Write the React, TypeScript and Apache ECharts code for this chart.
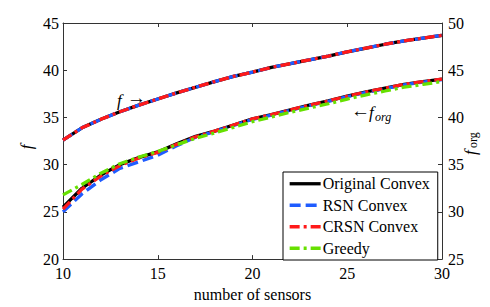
import React, { useEffect, useRef } from "react";
import * as echarts from "echarts";

const sensors = [10, 11, 12, 13, 14, 15, 16, 17, 18, 19, 20, 21, 22, 23, 24, 25, 26, 27, 28, 29, 30];

// upper curves: f (left axis)
const fOriginal = [32.6, 33.9, 34.8, 35.6, 36.3, 36.95, 37.6, 38.2, 38.8, 39.35, 39.8, 40.3, 40.7, 41.1, 41.5, 41.95, 42.35, 42.75, 43.1, 43.4, 43.7];
const fRSN = [32.6, 33.9, 34.8, 35.6, 36.3, 36.95, 37.6, 38.2, 38.8, 39.35, 39.8, 40.3, 40.7, 41.1, 41.5, 41.95, 42.35, 42.75, 43.1, 43.4, 43.7];
const fCRSN = [32.6, 33.9, 34.8, 35.6, 36.3, 36.95, 37.6, 38.2, 38.8, 39.35, 39.8, 40.3, 40.7, 41.1, 41.5, 41.95, 42.35, 42.75, 43.1, 43.4, 43.7];

// lower curves: f_org (right axis)
const forgOriginal = [30.5, 32.5, 33.9, 35.0, 35.75, 36.35, 37.2, 38.0, 38.55, 39.2, 39.85, 40.3, 40.8, 41.3, 41.75, 42.25, 42.7, 43.1, 43.5, 43.8, 44.05];
const forgRSN = [30.0, 31.9, 33.4, 34.6, 35.3, 36.0, 37.0, 37.9, 38.5, 39.15, 39.8, 40.25, 40.75, 41.25, 41.7, 42.2, 42.65, 43.05, 43.45, 43.75, 44.0];
const forgCRSN = [30.3, 32.4, 33.8, 34.9, 35.7, 36.3, 37.15, 37.95, 38.55, 39.2, 39.85, 40.3, 40.8, 41.3, 41.75, 42.25, 42.7, 43.1, 43.5, 43.8, 44.05];
const forgGreedy = [31.8, 32.9, 34.1, 35.1, 35.8, 36.4, 37.1, 37.8, 38.35, 38.95, 39.55, 40.05, 40.55, 41.0, 41.45, 41.95, 42.4, 42.8, 43.2, 43.5, 43.8];

const names = ["Original Convex", "RSN Convex", "CRSN Convex", "Greedy"];
const colors = ["#000000", "#1f5cff", "#ff1a1a", "#66e000"];
const dashes: any[] = ["solid", [11, 5], [10, 4, 3, 4], [10, 4, 3, 4]];

const FONT = "'Liberation Serif', 'Times New Roman', serif";

const pairs = (ys: number[]) => sensors.map((x, i) => [x, ys[i]]);

export default function App() {
  const ref = useRef<HTMLDivElement>(null);
  useEffect(() => {
    if (!ref.current) return;
    const chart = echarts.init(ref.current, null, { renderer: "svg" });
    const mk = (idx: number, data: number[], yAxisIndex: number) => ({
      type: "line",
      name: names[idx],
      data: pairs(data),
      yAxisIndex,
      xAxisIndex: 0,
      symbol: "none",
      showSymbol: false,
      lineStyle: { color: colors[idx], width: 3.3, type: dashes[idx] },
      itemStyle: { color: colors[idx] },
      z: 2 + idx,
    });
    const axisLine = { show: true, lineStyle: { color: "#333", width: 1 } };
    const tick = { show: true, inside: true, length: 4, lineStyle: { color: "#333" } };
    const label = { color: "#000", fontFamily: FONT, fontSize: 16 };
    chart.setOption({
      animation: false,
      backgroundColor: "#fff",
      grid: { left: 63, right: 48, top: 23, bottom: 43, show: false },
      legend: {
        orient: "vertical",
        left: 283,
        top: 172,
        width: 159,
        data: names,
        itemWidth: 31,
        itemHeight: 14,
        itemGap: 4,
        padding: [3, 8, 3, 5],
        borderColor: "#000",
        borderWidth: 1,
        backgroundColor: "#fff",
        itemStyle: { opacity: 0 },
        lineStyle: { width: 3.3 },
        textStyle: { color: "#000", fontFamily: FONT, fontSize: 16, lineHeight: 17.5, padding: [0, 0, 0, -3] },
        selectedMode: false,
      },
      xAxis: [
        {
          type: "value",
          min: 10,
          max: 30,
          interval: 5,
          position: "bottom",
          axisLine,
          axisTick: tick,
          splitLine: { show: false },
          axisLabel: { ...label, margin: 6 },
          name: "number of sensors",
          nameLocation: "middle",
          nameGap: 22,
          nameTextStyle: { color: "#000", fontFamily: FONT, fontSize: 16 },
        },
        {
          type: "value",
          min: 10,
          max: 30,
          interval: 5,
          position: "top",
          axisLine,
          axisTick: tick,
          splitLine: { show: false },
          axisLabel: { show: false },
        },
      ],
      yAxis: [
        {
          type: "value",
          min: 20,
          max: 45,
          interval: 5,
          position: "left",
          axisLine,
          axisTick: tick,
          splitLine: { show: false },
          axisLabel: { ...label, margin: 4 },
        },
        {
          type: "value",
          min: 25,
          max: 50,
          interval: 5,
          position: "right",
          axisLine,
          axisTick: tick,
          splitLine: { show: false },
          axisLabel: { ...label, margin: 6 },
        },
      ],
      graphic: [
        {
          type: "text",
          x: 26,
          y: 147,
          rotation: Math.PI / 2,
          style: {
            text: "f",
            fontFamily: FONT,
            fontSize: 17,
            fontStyle: "italic",
            fill: "#000",
            align: "center",
            verticalAlign: "middle",
          },
        },
        {
          type: "text",
          x: 117,
          y: 100,
          style: {
            text: "f",
            fontFamily: FONT,
            fontSize: 17,
            fontStyle: "italic",
            fill: "#000",
            verticalAlign: "middle",
          },
        },
        {
          type: "text",
          x: 127,
          y: 97,
          style: { text: "→", fontFamily: FONT, fontSize: 19, fill: "#000", verticalAlign: "middle" },
        },
        {
          type: "text",
          x: 351,
          y: 110,
          style: { text: "←", fontFamily: FONT, fontSize: 19, fill: "#000", verticalAlign: "middle" },
        },
        {
          type: "text",
          x: 369,
          y: 112,
          style: { text: "f", fontFamily: FONT, fontSize: 17, fontStyle: "italic", fill: "#000", verticalAlign: "middle" },
        },
        {
          type: "text",
          x: 375,
          y: 117,
          style: { text: "org", fontFamily: FONT, fontSize: 12, fontStyle: "italic", fill: "#000", verticalAlign: "middle" },
        },
        {
          type: "group",
          x: 470,
          y: 155,
          rotation: Math.PI / 2,
          children: [
            {
              type: "text",
              x: 0,
              y: 0,
              style: { text: "f", fontFamily: FONT, fontSize: 17, fontStyle: "italic", fill: "#000", verticalAlign: "middle" },
            },
            {
              type: "text",
              x: 7,
              y: 3,
              style: { text: "org", fontFamily: FONT, fontSize: 12, fill: "#000", verticalAlign: "middle" },
            },
          ],
        },
      ],
      series: [
        mk(0, fOriginal, 0),
        mk(1, fRSN, 0),
        mk(2, fCRSN, 0),
        mk(0, forgOriginal, 1),
        mk(1, forgRSN, 1),
        mk(2, forgCRSN, 1),
        mk(3, forgGreedy, 1),
      ],
    });
    return () => chart.dispose();
  }, []);
  return <div ref={ref} style={{ width: 490, height: 307, position: "absolute", left: 0, top: 0 }} />;
}
